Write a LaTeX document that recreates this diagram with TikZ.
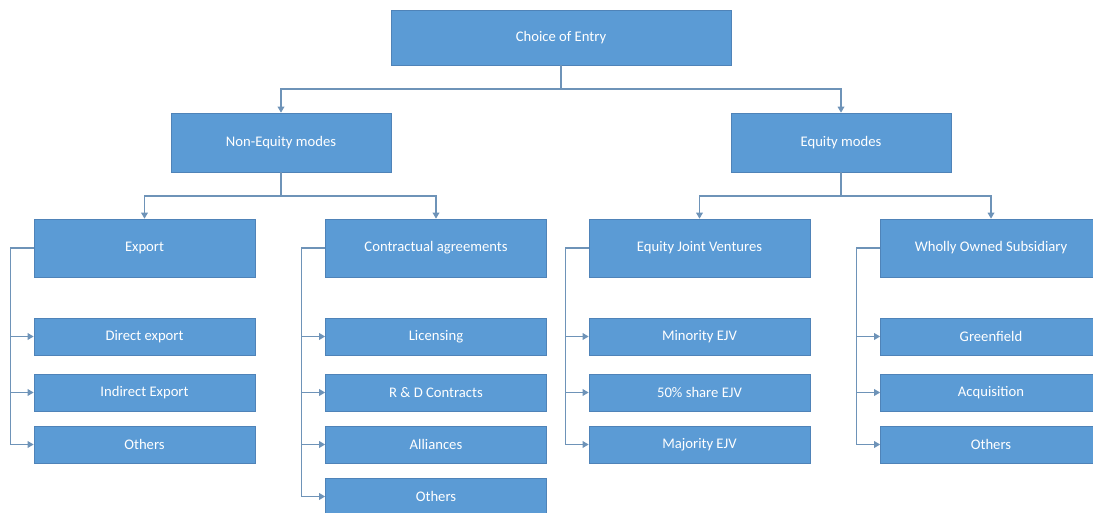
\documentclass[tikz,border=0pt]{standalone}
\usepackage{fontspec}
\setmainfont{Carlito}
\usetikzlibrary{arrows.meta}

\definecolor{boxfill}{HTML}{5B9BD5}
\definecolor{boxline}{HTML}{4F83B8}
\definecolor{linkcol}{HTML}{6E93B8}

\tikzset{
  box/.style={draw=boxline, fill=boxfill, text=white, line width=0.5pt,
    minimum width=165.75pt, minimum height=43.5pt, inner sep=0pt,
    font=\fontsize{11}{13}\selectfont},
  topbox/.style={box, minimum width=255pt, minimum height=41.25pt},
  midbox/.style={box, minimum width=165pt, minimum height=44.25pt},
  leaf/.style={box, minimum height=27.75pt},
  link/.style={draw=linkcol, line width=0.9pt},
  arrow/.style={link, -{Triangle[length=4.5pt,width=5pt]}}
}

\begin{document}
\begin{tikzpicture}[x=0.75pt, y=-0.75pt]
  \useasboundingbox (0,0) rectangle (1093,513);

  \node[topbox] (entry) at (561,37.5) {Choice of Entry};
  \node[midbox] (nonequity) at (281,142.5) {Non-Equity modes};
  \node[midbox] (equity) at (841,142.5) {Equity modes};

  \node[box] (export) at (144.5,248) {Export};
  \node[box] (contract) at (436,248) {Contractual agreements};
  \node[box] (ejv) at (699.5,248) {Equity Joint Ventures};
  \node[box] (wos) at (991,248) {Wholly Owned Subsidiary};

  \node[leaf] (direct) at (144.5,336.5) {Direct export};
  \node[leaf] (indirect) at (144.5,392.5) {Indirect Export};
  \node[leaf] (expother) at (144.5,444.5) {Others};

  \node[leaf] (licensing) at (436,336.5) {Licensing};
  \node[leaf] (rnd) at (436,392.5) {R \& D Contracts};
  \node[leaf] (alliances) at (436,444.5) {Alliances};
  \node[leaf] (conother) at (436,496.5) {Others};

  \node[leaf] (minority) at (699.5,336.5) {Minority EJV};
  \node[leaf] (halfshare) at (699.5,392.5) {50\% share EJV};
  \node[leaf] (majority) at (699.5,444.5) {Majority EJV};

  \node[leaf] (greenfield) at (991,336.5) {Greenfield};
  \node[leaf] (acquisition) at (991,392.5) {Acquisition};
  \node[leaf] (wosother) at (991,444.5) {Others};

  \coordinate (split top) at (561,89);
  \coordinate (split left) at (281,196);
  \coordinate (split right) at (841,196);

  \draw[link] (entry) -- (split top);
  \draw[arrow] (split top) -| (nonequity);
  \draw[arrow] (split top) -| (equity);

  \draw[link] (nonequity) -- (split left);
  \draw[arrow] (split left) -| (export);
  \draw[arrow] (split left) -| (contract);
  \draw[link] (equity) -- (split right);
  \draw[arrow] (split right) -| (ejv);
  \draw[arrow] (split right) -| (wos);

  \draw[arrow] (export.west) -- ++(-23.5,0) |- (direct.west);
  \draw[arrow] (export.west) -- ++(-23.5,0) |- (indirect.west);
  \draw[arrow] (export.west) -- ++(-23.5,0) |- (expother.west);

  \draw[arrow] (contract.west) -- ++(-23.5,0) |- (licensing.west);
  \draw[arrow] (contract.west) -- ++(-23.5,0) |- (rnd.west);
  \draw[arrow] (contract.west) -- ++(-23.5,0) |- (alliances.west);
  \draw[arrow] (contract.west) -- ++(-23.5,0) |- (conother.west);

  \draw[arrow] (ejv.west) -- ++(-23.5,0) |- (minority.west);
  \draw[arrow] (ejv.west) -- ++(-23.5,0) |- (halfshare.west);
  \draw[arrow] (ejv.west) -- ++(-23.5,0) |- (majority.west);

  \draw[arrow] (wos.west) -- ++(-23.5,0) |- (greenfield.west);
  \draw[arrow] (wos.west) -- ++(-23.5,0) |- (acquisition.west);
  \draw[arrow] (wos.west) -- ++(-23.5,0) |- (wosother.west);
\end{tikzpicture}
\end{document}
